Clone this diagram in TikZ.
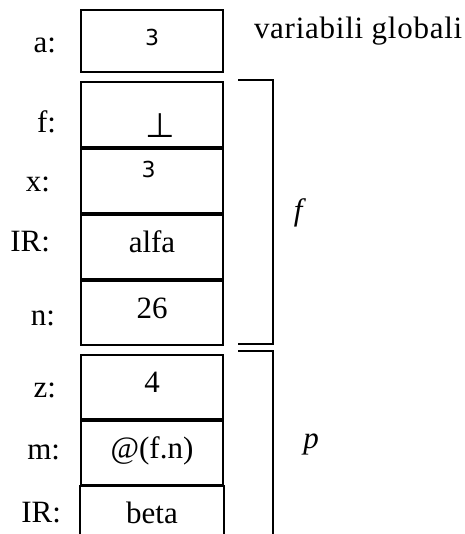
\documentclass[tikz,border=0pt]{standalone}
\usepackage{fontspec}
\setmainfont{Liberation Serif}
\newfontfamily\digitfont{DejaVu Sans}
\usepackage{tikz}
\usetikzlibrary{positioning}

\begin{document}
\begin{tikzpicture}[
    x=1pt, y=1pt,
    node distance=0pt,
    line width=2pt,
    cell/.style={rectangle,draw,minimum width=142pt,minimum height=64pt,inner sep=0pt,
                 text height=22pt,text depth=12pt,font=\fontsize{31}{37}\selectfont},
    lab/.style={anchor=base east,inner sep=0pt,font=\fontsize{31}{37}\selectfont},
    small/.style={font=\digitfont\fontsize{22}{26}\selectfont},
]
\useasboundingbox (0,0) rectangle (464,-534);

% global variables
\node[cell,minimum height=62pt,small] (a) at (152,-41) {3};
\node[lab,anchor=base west] (glob) at ([shift={(29,-30)}]a.north east)
    {\addfontfeature{LetterSpace=2.4}variabili globali};

% frame of f
\node[cell,below=8pt of a,minimum height=65pt] (f) {};
\node[cell,below=of f] (x) {};
\node[cell,below=of x] (ir1) {alfa};
\node[cell,below=of ir1] (n) {26};
\node[inner sep=0pt,font=\digitfont\fontsize{34}{38}\selectfont] (bot) at ([shift={(8.5,-11.5)}]f.center) {⊥};
\node[small,inner sep=0pt] (xval) at ([shift={(-3.5,11.5)}]x.center) {3};

% frame of p
\node[cell,below=8pt of n] (z) {4};
\node[cell,below=of z] (m) {@(f.n)};
\node[cell,below=of m,draw=none,minimum height=62pt] (beta) {beta};
\draw (beta.south west) -- (beta.north west) -- (beta.north east) -- (beta.south east);

% names of the cells
\node[lab] (la) at ([shift={(-23,-12)}]a.west) {a:};
\node[lab] (lf) at ([shift={(-23,-18.5)}]f.west) {f:};
\node[lab] (lx) at ([shift={(-29,-11)}]x.west) {x:};
\node[lab] (lir1) at ([shift={(-29,-4)}]ir1.west) {IR:};
\node[lab] (ln) at ([shift={(-24,-12)}]n.west) {n:};
\node[lab] (lz) at ([shift={(-23,-10)}]z.west) {z:};
\node[lab] (lm) at ([shift={(-19,-6)}]m.west) {m:};
\node[lab] (lir2) at ([shift={(-18,-4)}]beta.west) {IR:};

% brackets
\coordinate (ftop) at ([shift={(14,1)}]f.north east);
\coordinate (fbot) at ([shift={(14,2)}]n.south east);
\coordinate (ptop) at ([shift={(14,3)}]z.north east);
\coordinate (pend) at ([xshift=49]beta.south east);
\draw (ftop) -- ++(35,0) |- (fbot);
\draw (ptop) -| (pend);
\node[lab,anchor=center] (fname) at (300,-213) {\textit{f}};
\node[lab,anchor=base] (pname) at (311,-448) {\textit{p}};
\end{tikzpicture}
\end{document}
